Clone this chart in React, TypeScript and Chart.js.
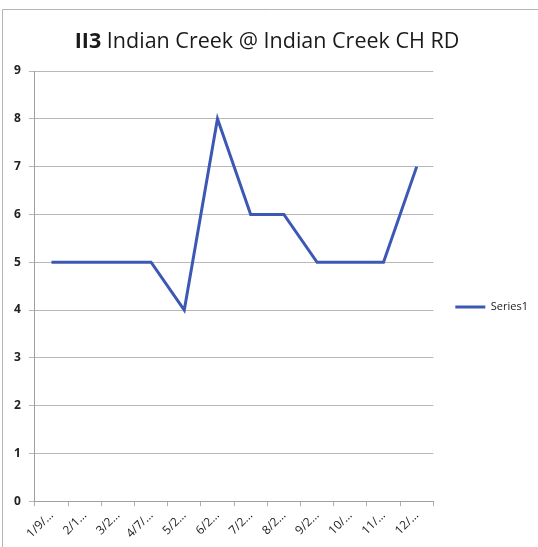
import React, { useEffect, useRef } from "react";
import { Chart, registerables } from "chart.js";

Chart.register(...registerables);

const categories = ["1/9/…", "2/1…", "3/2…", "4/7/…", "5/2…", "6/2…", "7/2…", "8/2…", "9/2…", "10/…", "11/…", "12/…"];
const seriesName = "Series1";
const seriesValues = [5, 5, 5, 5, 4, 8, 6, 6, 5, 5, 5, 7];
const yMin = 0;
const yMax = 9;
const yStep = 1;
const titleBold = "II3";
const titleRest = " Indian Creek @ Indian Creek CH RD";

const FONT = "'Open Sans', 'Liberation Sans', sans-serif";
const LINE_COLOR = "#3D58B4";

const titlePlugin = {
  id: "mixedTitle",
  afterDraw(chart: any) {
    const ctx = chart.ctx as CanvasRenderingContext2D;
    ctx.save();
    ctx.textBaseline = "middle";
    ctx.fillStyle = "#1a1a1a";
    const boldFont = `bold 21.5px ${FONT}`;
    const normFont = `21.5px ${FONT}`;
    ctx.font = boldFont;
    const wb = ctx.measureText(titleBold).width;
    ctx.font = normFont;
    const wr = ctx.measureText(titleRest).width;
    const total = wb + wr;
    const cx = 267;
    const y = 42;
    let x = cx - total / 2;
    ctx.textAlign = "left";
    ctx.font = boldFont;
    ctx.fillText(titleBold, x, y);
    ctx.font = normFont;
    ctx.fillText(titleRest, x + wb, y);
    ctx.restore();
  },
};

const framePlugin = {
  id: "frame",
  beforeDraw(chart: any) {
    const ctx = chart.ctx as CanvasRenderingContext2D;
    ctx.save();
    ctx.fillStyle = "#ffffff";
    ctx.fillRect(0, 0, chart.width, chart.height);
    ctx.strokeStyle = "#b5b5b5";
    ctx.lineWidth = 1;
    ctx.beginPath();
    ctx.moveTo(2.5, chart.height);
    ctx.lineTo(2.5, 9.5);
    ctx.lineTo(chart.width, 9.5);
    ctx.stroke();
    ctx.restore();
  },
};

export default function App() {
  const canvasRef = useRef<HTMLCanvasElement | null>(null);

  useEffect(() => {
    document.body.style.margin = "0";
    const canvas = canvasRef.current;
    if (!canvas) return;
    const chart = new Chart(canvas, {
      type: "line",
      data: {
        labels: categories,
        datasets: [
          {
            label: seriesName,
            data: seriesValues,
            borderColor: LINE_COLOR,
            backgroundColor: LINE_COLOR,
            borderWidth: 3,
            pointRadius: 0,
            tension: 0,
            fill: false,
          },
        ],
      },
      options: {
        animation: false,
        responsive: true,
        maintainAspectRatio: false,
        layout: { padding: { top: 71, left: 6, right: 0, bottom: 4 } },
        plugins: {
          title: { display: false },
          tooltip: { enabled: false },
          legend: {
            position: "right",
            align: "center",
            labels: {
              font: { family: FONT, size: 11 },
              color: "#222",
              usePointStyle: true,
              pointStyle: "line",
              pointStyleWidth: 30,
              boxHeight: 3,
              padding: 22,
            },
          },
        },
        scales: {
          x: {
            offset: true,
            grid: {
              display: true,
              drawOnChartArea: false,
              drawTicks: true,
              tickLength: 5,
              color: "#b0b0b0",
              offset: true,
            },
            border: { color: "#a0a0a0", width: 1 },
            ticks: {
              autoSkip: false,
              maxRotation: 45,
              minRotation: 45,
              font: { family: FONT, size: 12 },
              color: "#222",
              padding: 2,
            },
          },
          y: {
            min: yMin,
            max: yMax,
            grid: { color: "#b8b8b8", tickLength: 6, lineWidth: 1 },
            border: { color: "#a0a0a0", width: 1 },
            ticks: {
              stepSize: yStep,
              font: { family: FONT, size: 12, weight: "bold" },
              color: "#222",
              padding: 8,
            },
          },
        },
      },
      plugins: [framePlugin, titlePlugin],
    });
    return () => chart.destroy();
  }, []);

  return (
    <div style={{ width: 538, height: 547, position: "relative" }}>
      <canvas ref={canvasRef} />
    </div>
  );
}
